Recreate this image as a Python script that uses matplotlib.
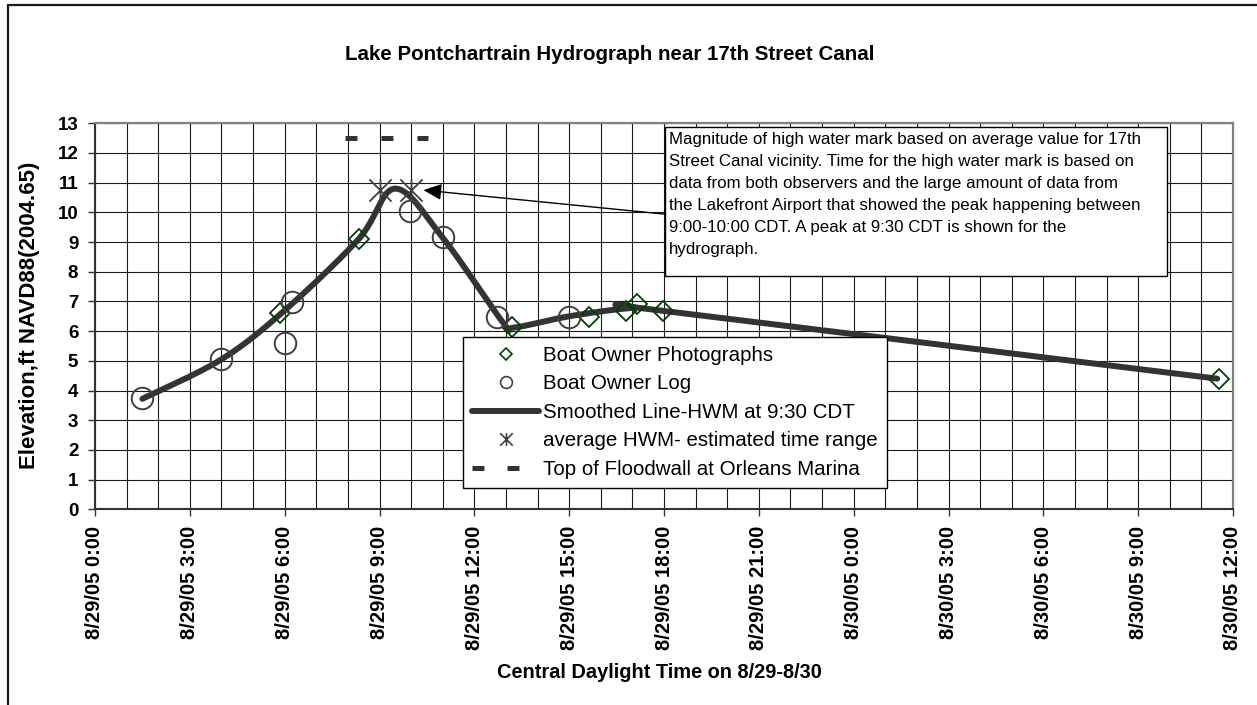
import numpy as np
import matplotlib.pyplot as plt
from matplotlib.lines import Line2D
from matplotlib.path import Path
from matplotlib.patches import Rectangle

plt.rcParams['font.family'] = ['Liberation Sans', 'DejaVu Sans']
plt.rcParams['lines.scale_dashes'] = False

# Data (hours after 8/29/05 0:00, elevation ft)
photo_t = [5.85, 8.34, 13.2, 15.64, 16.8, 17.16, 17.96, 35.55]
photo_y = [6.6, 9.09, 6.15, 6.49, 6.68, 6.9, 6.68, 4.39]

log_t = [1.48, 4.0, 6.0, 6.24, 9.96, 11.0, 12.72, 14.98]
log_y = [3.74, 5.05, 5.59, 6.99, 10.04, 9.16, 6.49, 6.49]

smooth_t = [1.5, 4.0, 6.0, 8.34, 9.5, 11.0, 12.9, 13.25, 15.0, 17.0, 18.0, 35.5]
smooth_y = [3.72, 5.05, 6.7, 9.1, 10.8, 9.15, 6.3, 6.12, 6.5, 6.78, 6.68, 4.4]

hwm_t = [9.0, 10.0]
hwm_y = [10.75, 10.75]

floodwall_t = [7.9, 10.55]
floodwall_y = [12.5, 12.5]

tick_hours = list(range(0, 37, 3))
tick_labels = ['8/29/05 0:00', '8/29/05 3:00', '8/29/05 6:00', '8/29/05 9:00',
               '8/29/05 12:00', '8/29/05 15:00', '8/29/05 18:00', '8/29/05 21:00',
               '8/30/05 0:00', '8/30/05 3:00', '8/30/05 6:00', '8/30/05 9:00',
               '8/30/05 12:00']

note = ("Magnitude of high water mark based on average value for 17th\n"
        "Street Canal vicinity. Time for the high water mark is based on\n"
        "data from both observers and the large amount of data from\n"
        "the Lakefront Airport that showed the peak happening between\n"
        "9:00-10:00 CDT. A peak at 9:30 CDT is shown for the\n"
        "hydrograph.")


def excel_smooth(x, y, n=40):
    # bezier smoothing like a spreadsheet "smoothed line"
    p = np.column_stack([x, y]).astype(float)
    out = [p[0]]
    t = np.linspace(0, 1, n)[1:, None]
    for i in range(len(p) - 1):
        pa = p[i - 1] if i > 0 else p[i]
        pd = p[i + 2] if i + 2 < len(p) else p[i + 1]
        c1 = p[i] + (p[i + 1] - pa) / 6
        c2 = p[i + 1] - (pd - p[i]) / 6
        seg = ((1 - t) ** 3 * p[i] + 3 * (1 - t) ** 2 * t * c1
               + 3 * (1 - t) * t ** 2 * c2 + t ** 3 * p[i + 1])
        out.extend(seg)
    out = np.array(out)
    return out[:, 0], out[:, 1]


star = Path([(0, -1), (0, 1), (-1, -1), (1, 1), (-1, 1), (1, -1)],
            [Path.MOVETO, Path.LINETO] * 3)

fig = plt.figure(figsize=(12.57, 7.05), dpi=100)
ax = fig.add_axes([95 / 1257, 1 - 509.3 / 705, 1138 / 1257, 386 / 705])

# outer chart border
fig.patches.append(Rectangle((8 / 1257, -0.2), 2, 1.2 - 5 / 705, transform=fig.transFigure,
                             fill=False, ec='#1a1a1a', lw=1.6))

sx, sy = excel_smooth(smooth_t, smooth_y)
ax.plot(sx, sy, color='#333333', lw=4.3, solid_capstyle='round', zorder=3)
ax.plot(photo_t, photo_y, ls='none', marker='D', ms=10, mfc='none', mec='#004000', mew=1.3, zorder=4)
ax.plot(log_t, log_y, ls='none', marker='o', ms=15.5, mfc='none', mec='#404040', mew=1.4, zorder=4)
ax.plot(hwm_t, hwm_y, ls='none', marker=star, ms=16, mec='#404040', mew=1.3, zorder=4)
ax.plot(floodwall_t, floodwall_y, color='#333333', lw=3.6, dashes=(8.6, 17.3), zorder=4)

# note box and arrow
ax.add_patch(Rectangle((18.03, 7.86), 33.9 - 18.03, 12.87 - 7.86, fc='white', ec='black',
                       lw=1.0, zorder=5))
ax.text(18.15, 12.7, note, fontsize=12.2, va='top', ha='left', linespacing=1.58, zorder=6)
ax.annotate('', xy=(10.39, 10.75), xytext=(18.03, 9.94),
            arrowprops=dict(arrowstyle='-|>,head_length=1.0,head_width=0.45',
                            mutation_scale=11, color='black', lw=1.0,
                            shrinkA=0, shrinkB=0), zorder=6)

ax.set_xlim(0, 36)
ax.set_ylim(0, 13)
ax.set_xticks(tick_hours)
ax.set_xticklabels(tick_labels, rotation=90, fontsize=14.5, fontweight='bold')
ax.set_xticks(range(0, 37), minor=True)
ax.set_yticks(range(0, 14))
ax.set_yticklabels([str(v) for v in range(0, 14)], fontsize=13.5, fontweight='bold')
ax.tick_params(axis='both', which='major', direction='out', length=5, width=1, color='#333333', pad=7)
ax.tick_params(axis='x', which='minor', length=0)
ax.grid(True, which='major', color='#1a1a1a', lw=0.8)
ax.grid(True, which='minor', axis='x', color='#1a1a1a', lw=0.8)
ax.set_axisbelow(True)

for side in ['left', 'bottom']:
    ax.spines[side].set_color('#333333')
    ax.spines[side].set_linewidth(1.5)
for side in ['top', 'right']:
    ax.spines[side].set_color('#808080')
    ax.spines[side].set_linewidth(1.6)

handles = [
    Line2D([], [], ls='none', marker='D', ms=6.5, mfc='none', mec='#004000', mew=1.2),
    Line2D([], [], ls='none', marker='o', ms=8.5, mfc='none', mec='#404040', mew=1.2),
    Line2D([], [], color='#333333', lw=4.3, solid_capstyle='round'),
    Line2D([], [], ls='none', marker=star, ms=9, mec='#404040', mew=1.2),
    Line2D([], [], color='#333333', lw=3.6, dashes=(8.6, 16.6)),
]
labels = ['Boat Owner Photographs', 'Boat Owner Log', 'Smoothed Line-HWM at 9:30 CDT',
          'average HWM- estimated time range', 'Top of Floodwall at Orleans Marina']
leg = ax.legend(handles, labels, loc='upper left', bbox_to_anchor=(0.323, 0.447),
                borderaxespad=0, fontsize=14.75, fancybox=False, framealpha=1,
                edgecolor='black', handlelength=3.3, handletextpad=0.2,
                labelspacing=0.46, borderpad=0.45)
leg.get_frame().set_linewidth(1.0)
leg.set_zorder(7)

fig.text(0.485, 1 - 55 / 705, 'Lake Pontchartrain Hydrograph near 17th Street Canal',
         ha='center', va='center', fontsize=14.75, fontweight='bold')
fig.text(30 / 1257, 0.553, 'Elevation,ft NAVD88(2004.65)', rotation=90,
         ha='center', va='center', fontsize=16, fontweight='bold')
fig.text(0.525, 1 - 673 / 705, 'Central Daylight Time on 8/29-8/30',
         ha='center', va='center', fontsize=14.4, fontweight='bold')

fig.savefig('out.png', dpi=100, facecolor='white')
